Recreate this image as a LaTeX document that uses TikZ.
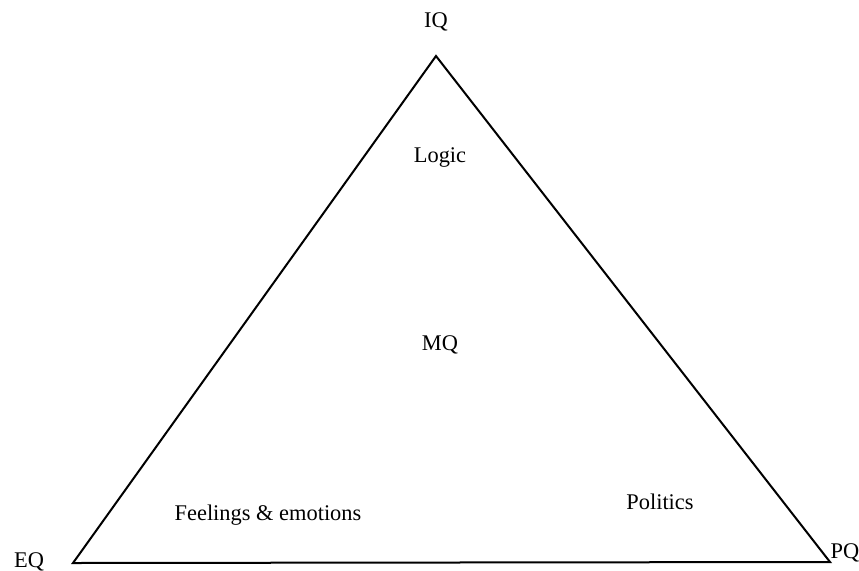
\documentclass[tikz,border=0pt]{standalone}
\usepackage{fontspec}
\setmainfont{Liberation Serif}
\usetikzlibrary{positioning}

\begin{document}
\begin{tikzpicture}[x=0.5pt, y=-0.5pt,
    label text/.style={inner sep=1pt, font=\fontsize{11.2}{13}\selectfont},
    side/.style={line width=1pt, line join=miter}]
        \useasboundingbox (0,0) rectangle (859,570);

        % Vertices of the triangle
        \coordinate (top) at (436,56);
        \coordinate (left) at (73,563);
        \coordinate (right) at (830,562);
        \draw[side] (top) -- (right) -- (left) -- cycle;

        % Corner labels
        \node[label text] (iq) at (436,22) {IQ};
        \node[label text] (eq) at (29,562) {EQ};
        \node[label text] (pq) at (845,553) {PQ};

        % Inside labels
        \node[label text] (logic) at (440,157) {Logic};
        \node[label text] (mq) at (440,345) {MQ};
        \node[label text] (feel) at (268,515) {Feelings \& emotions};
        \node[label text] (pol) at (660,502) {Politics};
    \end{tikzpicture}
\end{document}
